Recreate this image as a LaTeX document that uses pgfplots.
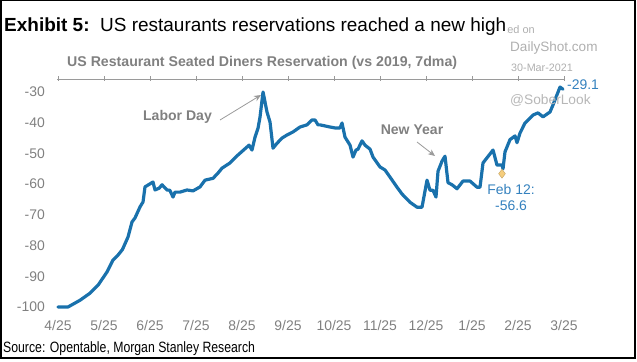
\documentclass[border=0pt]{standalone}
\usepackage{pgfplots}
\pgfplotsset{compat=1.18}
\usetikzlibrary{arrows.meta}
\usepackage{fontspec}
\setmainfont{Liberation Sans}
\newfontfamily\narrowfont{Liberation Sans}[FakeStretch=0.82]
\definecolor{lineblue}{RGB}{25,113,172}
\definecolor{txtblue}{RGB}{52,129,190}
\definecolor{axgray}{RGB}{128,128,128}
\definecolor{wmgray}{RGB}{175,175,175}
\definecolor{mkfill}{RGB}{245,205,125}
\pgfplotstableread{
x y
0 -100
0.217 -100
0.478 -97.8
0.696 -95.5
0.870 -92.9
1.065 -88.6
1.196 -84.7
1.304 -83.1
1.40 -81.3
1.522 -77.2
1.609 -72.3
1.674 -71.0
1.783 -67.4
1.848 -65.8
1.891 -60.9
2.065 -59.3
2.109 -61.9
2.20 -61.3
2.261 -60.2
2.370 -61.9
2.43 -62.0
2.5 -64.2
2.543 -62.6
2.652 -62.6
2.804 -61.9
2.935 -62.2
3.087 -60.9
3.196 -58.7
3.370 -58.1
3.478 -56.4
3.565 -54.8
3.739 -53.1
3.891 -50.8
4.109 -47.9
4.152 -47.3
4.217 -48.9
4.283 -44.7
4.348 -41.8
4.391 -38.2
4.457 -30.0
4.543 -36.5
4.609 -39.8
4.674 -48.3
4.761 -46.7
4.870 -45.0
4.978 -44.0
5.109 -43.0
5.261 -41.4
5.413 -40.7
5.522 -39.1
5.587 -39.1
5.652 -40.7
5.696 -40.7
5.913 -41.4
6.022 -41.7
6.130 -41.7
6.174 -40.1
6.239 -44.7
6.348 -47.3
6.413 -51.2
6.478 -48.9
6.522 -48.6
6.609 -45.9
6.674 -47.3
6.783 -48.6
6.848 -51.2
7.0 -54.4
7.109 -55.4
7.217 -57.7
7.370 -61.0
7.478 -63.2
7.652 -65.9
7.804 -67.5
7.913 -67.5
8.022 -58.7
8.087 -62.0
8.152 -62.0
8.217 -64.2
8.261 -55.8
8.348 -52.5
8.413 -50.9
8.478 -59.5
8.565 -60.2
8.674 -61.5
8.804 -59.0
8.957 -59.0
9.109 -61.0
9.174 -61.0
9.239 -53.1
9.457 -48.9
9.543 -53.8
9.652 -53.8
9.674 -55.0
9.717 -49.5
9.826 -45.5
9.935 -44.3
9.978 -46.5
10.043 -43.4
10.152 -40.1
10.326 -37.5
10.435 -36.8
10.543 -38.1
10.696 -36.5
10.761 -34.2
10.913 -28.4
10.978 -29.1
}\restab
\begin{document}
\begin{tikzpicture}[x=1bp,y=1bp]
\path[use as bounding box] (0,0) rectangle (637,361);
% watermark behind title
\node[anchor=base east, inner sep=0pt, text=wmgray, font=\fontsize{11}{13}\selectfont] at (535,328) {Posted on};
\node[anchor=base west, inner sep=1pt, fill=white, font=\fontsize{19.05}{22}\selectfont] at (3,330) {\textbf{Exhibit 5:}\ \ US restaurants reservations reached a new high};
\node[anchor=west, inner sep=0pt, text=wmgray, font=\fontsize{13.6}{16}\selectfont] at (510,313) {DailyShot.com};
\node[anchor=west, inner sep=0pt, text=wmgray, font=\fontsize{10.8}{13}\selectfont] at (511,293) {30-Mar-2021};
\node[anchor=base west, inner sep=0pt, text=axgray, font=\bfseries\fontsize{14.2}{16}\selectfont] at (67,295) {US Restaurant Seated Diners Reservation (vs 2019, 7dma)};
\begin{axis}[
  at={(57bp,54bp)}, anchor=south west,
  scale only axis, width=507bp, height=228bp,
  xmin=-0.022, xmax=11, ymin=-100, ymax=-25.77,
  clip=false,
  axis line style={draw=none},
  xtick={0,1,...,11},
  xticklabels={4/25,5/25,6/25,7/25,8/25,9/25,10/25,11/25,12/25,1/25,2/25,3/25},
  xtick pos=right, xticklabel pos=left,
  xtick align=center,
  major tick length=5bp,
  xtick style={color=axgray!80, line width=0.8bp},
  ytick={-100,-90,...,-30},
  yticklabels={-100,-90,-80,-70,-60,-50,-40,-30},
  ytick style={draw=none},
  yticklabel style={anchor=east, inner sep=0pt, xshift=-12bp, text=axgray, font=\fontsize{14}{16}\selectfont},
  xticklabel style={anchor=north, inner sep=0pt, yshift=-11bp, text=axgray, font=\fontsize{14}{16}\selectfont},
]
\draw[axgray!80, line width=0.8bp] (rel axis cs:0,1) -- (rel axis cs:1,1);
\addplot[lineblue, line width=3.2bp, line join=round, line cap=round] table[x=x,y=y] {\restab};
\addplot[only marks, mark=diamond*, mark size=4.5bp, mark options={fill=mkfill, draw=mkfill!80!black, line width=0.4bp}] coordinates {(9.652,-56.6)};
\end{axis}
\node[anchor=west, inner sep=0pt, text=wmgray!90, font=\fontsize{13.8}{16}\selectfont] at (510,261) {@SoberLook};
\node[anchor=west, inner sep=0pt, text=txtblue, font=\fontsize{14}{16}\selectfont] at (567,276) {-29.1};
\node[inner sep=0pt, text=axgray, font=\bfseries\fontsize{14.1}{16}\selectfont] at (177.5,244) {Labor Day};
\draw[axgray!80, line width=0.8bp, -{Stealth[length=7bp,width=6bp]}] (220,241) -- (261,266);
\node[inner sep=0pt, text=axgray, font=\bfseries\fontsize{14.1}{16}\selectfont] at (412,231) {New Year};
\draw[axgray!80, line width=0.8bp, -{Stealth[length=7bp,width=6bp]}] (417,219) -- (435,205);
\node[inner sep=0pt, text=txtblue, font=\fontsize{14}{16}\selectfont] at (511,171) {Feb 12:};
\node[inner sep=0pt, text=txtblue, font=\fontsize{14}{16}\selectfont] at (511,155) {-56.6};
\node[anchor=west, inner sep=0pt, font=\narrowfont\fontsize{15}{17}\selectfont] at (3,12) {Source: Opentable, Morgan Stanley Research};
\draw[black, line width=1.5bp] (0.75,3) rectangle (635,360.25);
\end{tikzpicture}
\end{document}
